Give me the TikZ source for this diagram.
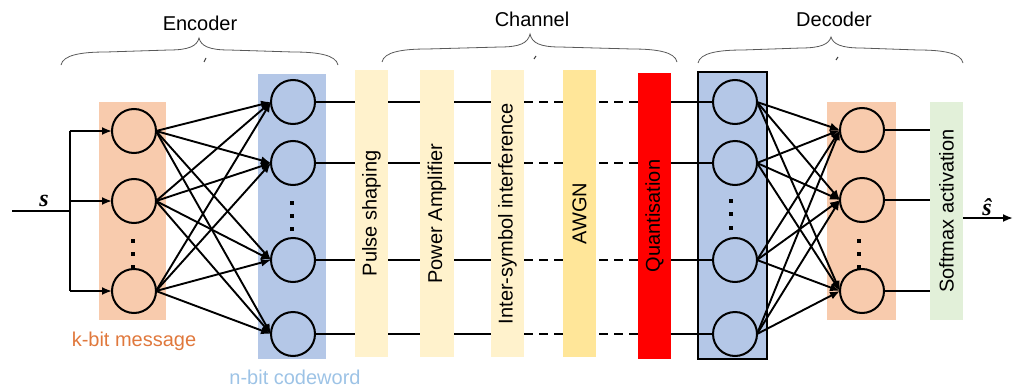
\documentclass[tikz,border=0pt]{standalone}
\usepackage{fontspec}
\setmainfont{Liberation Sans}
\newfontfamily\serifbi{Liberation Serif}
\usepackage{graphicx}
\usetikzlibrary{arrows.meta}
\definecolor{encorange}{HTML}{F8CBAD}
\definecolor{encblue}{HTML}{B4C7E7}
\definecolor{chyellow}{HTML}{FFF2CC}
\definecolor{awgncol}{HTML}{FFE699}
\definecolor{smgreen}{HTML}{E2F0D9}
\definecolor{kcol}{HTML}{E0783C}
\definecolor{ncol}{HTML}{9DC3E6}
\newcommand\mybrace[5]{% x1 xm x2 yend ytip
 \draw[bracel] (#1,#4) .. controls ({#1+2},{#4-10}) and ({#1+20},{#4-13}) .. ({#1+45},{#4-13})
 -- ({#2-30},{#4-15}) .. controls ({#2-10},{#4-15}) and ({#2-2},{#4-19}) .. (#2,#5)
 .. controls ({#2+2},{#4-19}) and ({#2+10},{#4-15}) .. ({#2+30},{#4-15})
 -- ({#3-45},{#4-13}) .. controls ({#3-20},{#4-13}) and ({#3-2},{#4-10}) .. (#3,#4);}
\begin{document}
\begin{tikzpicture}[x=1pt,y=-1pt, font=\fontsize{20}{24}\selectfont,
 panel/.style={rectangle, inner sep=0pt, outer sep=0pt, draw=none},
 neuron/.style={circle, draw=black, line width=2pt, minimum size=44pt, inner sep=0pt, outer sep=0pt},
 conn/.style={line width=1.9pt, -{Latex[length=10pt,width=8pt]}},
 wire/.style={line width=2pt},
 dwire/.style={line width=2pt, dash pattern=on 9pt off 6pt},
 bracel/.style={draw=black!65, line width=0.8pt},
 tick/.style={draw=black!75, line width=1pt},
 dotsq/.style={fill=black},
]
\useasboundingbox (0,0) rectangle (1014,388);

% braces and titles
\mybrace{61}{199}{338}{65}{38}
\mybrace{382}{530}{677}{62}{34}
\mybrace{698}{831}{963}{63}{37}
\draw[tick] (204,62) -- (206,58);
\draw[tick] (534,59) -- (536,56);
\draw[tick] (836,60) -- (838,57);
\node[anchor=base] (tenc) at (200,30) {Encoder};
\node[anchor=base] (tch) at (532,27) {Channel};
\node[anchor=base] (tdec) at (834,27) {Decoder};

% encoder / decoder panels
\node[panel, fill=encorange, minimum width=67pt, minimum height=218pt] (eo) at (132.5,211) {};
\node[panel, fill=encblue, minimum width=68pt, minimum height=285pt] (eb) at (292,216.5) {};
\node[panel, fill=encblue, draw=black, line width=1.2pt, minimum width=69pt, minimum height=287pt] (db) at (732.5,215.5) {};
\node[panel, fill=encorange, minimum width=69pt, minimum height=218pt] (do) at (861.5,211) {};

% neurons
\node[neuron] (o1) at (134,131) {};
\node[neuron] (o2) at (134,201) {};
\node[neuron] (o3) at (134,291) {};
\node[neuron] (b1) at (293,102) {};
\node[neuron] (b2) at (293,163) {};
\node[neuron] (b3) at (293,260) {};
\node[neuron] (b4) at (293,334) {};
\node[neuron] (c1) at (735,102) {};
\node[neuron] (c2) at (735,163) {};
\node[neuron] (c3) at (735,260) {};
\node[neuron] (c4) at (735,334) {};
\node[neuron] (p1) at (862,130) {};
\node[neuron] (p2) at (862,200) {};
\node[neuron] (p3) at (862,291) {};

% dots
\foreach \y in {241,254,267} \fill[dotsq] (131,{\y-2}) rectangle ++(4,4);
\foreach \y in {203,216,229} \fill[dotsq] (290,{\y-2}) rectangle ++(4,4);
\foreach \y in {201,214,228} \fill[dotsq] (729,{\y-2}) rectangle ++(4,4);
\foreach \y in {241,254,267} \fill[dotsq] (857,{\y-2}) rectangle ++(4,4);

% input
\coordinate (in) at (12,211);
\coordinate (j) at (69.5,211);
\coordinate (jt) at (69.5,131);
\coordinate (jb) at (69.5,291);
\draw[wire] (in) -- (j);
\draw[wire] (jt) -- (jb);
\draw[conn] (jt) -- (o1.west);
\draw[conn] (j |- o2) -- (o2.west);
\draw[conn] (jb) -- (o3.west);
\node[anchor=base, font=\serifbi\bfseries\itshape\fontsize{24}{24}\selectfont] (slab) at (44,206) {s};

% encoder connections
\foreach \a in {o1,o2,o3}
  \foreach \b in {b1,b2,b3,b4}
    \draw[conn] (\a.east) -- (\b.west);

% decoder connections
\foreach \a in {c1,c2,c3,c4}
  \foreach \b in {p1,p2,p3}
    \draw[conn] (\a.east) -- (\b.west);

% channel boxes (positions)
\node[panel, minimum width=33pt, minimum height=287pt] (ps) at (371.5,213.5) {};
\node[panel, minimum width=34pt, minimum height=287pt] (pa) at (437,213.5) {};
\node[panel, minimum width=33pt, minimum height=287pt] (isi) at (507.5,213.5) {};
\node[panel, minimum width=33pt, minimum height=287pt] (aw) at (579.5,213.5) {};
\node[panel, minimum width=33pt, minimum height=286pt] (qu) at (654.5,216) {};
\node[panel, minimum width=33pt, minimum height=218pt] (sm) at (946.5,211) {};

% channel wires
\foreach \b/\c in {b1/c1,b2/c2,b3/c3,b4/c4}{
  \draw[wire] (\b.east) -- (\b.east -| isi.east);
  \draw[dwire] (\b.east -| isi.east) -- (\b.east -| qu.west);
  \draw[wire] (\b.east -| qu.east) -- (\c.west);
}
% decoder outputs
\foreach \p in {p1,p2,p3}
  \draw[wire] (\p.east) -- (\p.east -| sm.west);

% channel boxes (drawn)
\node[panel, fill=chyellow, minimum width=33pt, minimum height=287pt] at (ps) {\rotatebox{90}{Pulse shaping}};
\node[panel, fill=chyellow, minimum width=34pt, minimum height=287pt] at (pa) {\rotatebox{90}{Power Amplifier}};
\node[panel, fill=chyellow, minimum width=33pt, minimum height=287pt] at (isi) {\rotatebox{90}{Inter-symbol interference}};
\node[panel, fill=awgncol, minimum width=33pt, minimum height=287pt] at (aw) {\rotatebox{90}{AWGN}};
\node[panel, fill=red, minimum width=33pt, minimum height=286pt] at (qu) {\rotatebox{90}{Quantisation}};
\node[panel, fill=smgreen, minimum width=33pt, minimum height=218pt] at (sm) {\rotatebox{90}{Softmax activation}};

% output
\coordinate (out) at (1013,218);
\draw[conn] (sm.east |- out) -- (out);
\node[anchor=base, font=\serifbi\bfseries\itshape\fontsize{24}{24}\selectfont] (shat) at (987,215) {\^{s}};

% labels
\node[anchor=base, text=kcol] (klab) at (134,346) {k-bit message};
\node[anchor=base, text=ncol] (nlab) at (295,384) {n-bit codeword};
\end{tikzpicture}
\end{document}
